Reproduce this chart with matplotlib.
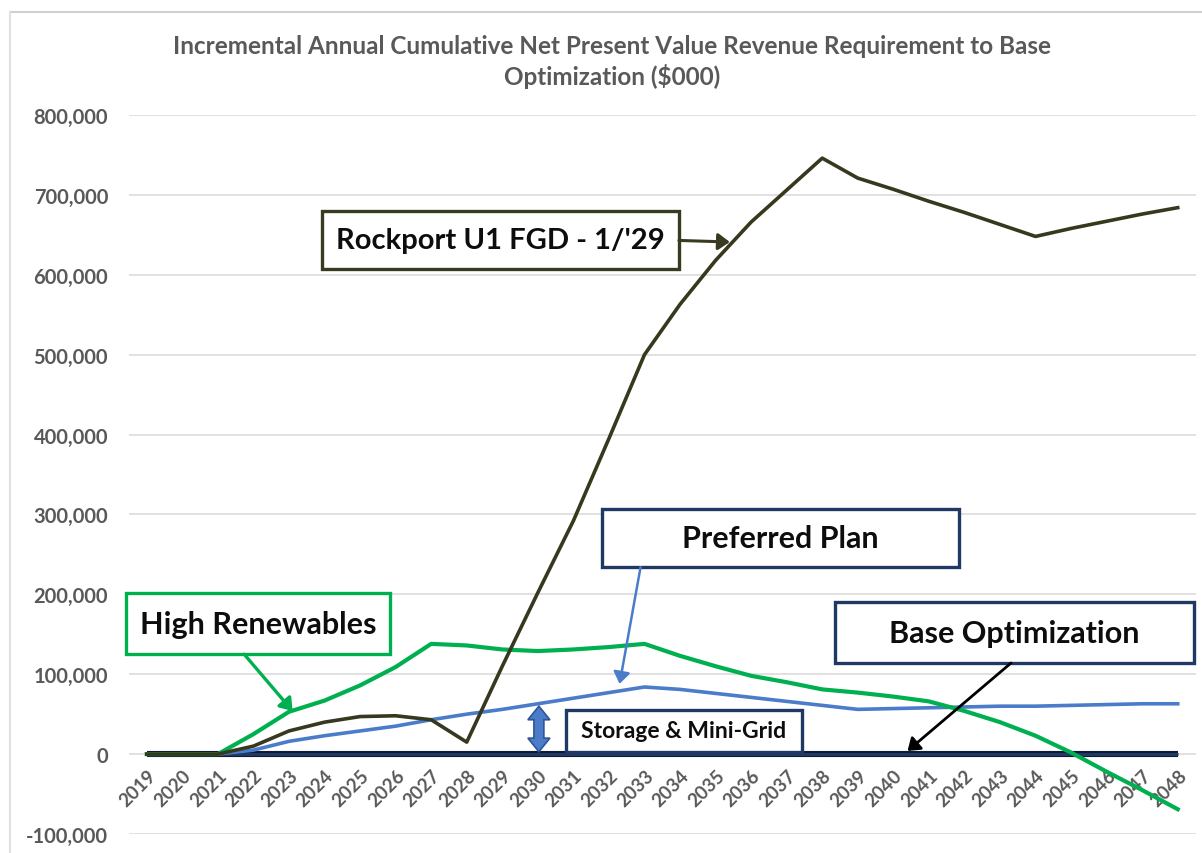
import matplotlib
matplotlib.use("Agg")
import matplotlib.pyplot as plt
from matplotlib.patches import Rectangle, FancyArrowPatch, Polygon
from matplotlib.ticker import FuncFormatter, MultipleLocator

# ---------------- data ($000) ----------------
years = [2019, 2020, 2021, 2022, 2023, 2024, 2025, 2026, 2027, 2028,
         2029, 2030, 2031, 2032, 2033, 2034, 2035, 2036, 2037, 2038,
         2039, 2040, 2041, 2042, 2043, 2044, 2045, 2046, 2047, 2048]
rockport = [0, 0, 0, 10000, 29000, 40000, 47000, 48000, 43000, 15000,
            110000, 202000, 292000, 395000, 500000, 563000, 618000, 666000, 706000, 746000,
            721000, 707000, 692000, 678000, 663000, 648000, 658000, 667000, 676000, 684000]
high_renewables = [0, 0, 0, 25000, 53000, 67000, 86000, 109000, 138000, 136000,
                   131000, 129000, 131000, 134000, 138000, 123000, 110000, 98000, 90000, 81000,
                   77000, 72000, 66000, 54000, 40000, 23000, 2000, -22000, -45000, -69000]
preferred = [0, 0, 0, 5000, 16000, 23000, 29000, 35000, 43000, 50000,
             56000, 63000, 70000, 77000, 84000, 81000, 76000, 71000, 66000, 61000,
             56000, 57000, 58000, 59000, 60000, 60000, 61000, 62000, 63000, 63000]
base_opt = [0] * len(years)

title = ("Incremental Annual Cumulative Net Present Value Revenue Requirement to Base\n"
         "Optimization ($000)")

# ---------------- style ----------------
plt.rcParams['font.family'] = ['Lato', 'DejaVu Sans']
C_ROCK = '#38381f'
C_GREEN = '#00b050'
C_BLUE = '#4a7cc9'
C_NAVY = '#1f3864'
C_GRAY = '#595959'

W, H = 1202, 854
fig = plt.figure(figsize=(W / 100, H / 100), dpi=100)
ax_left, ax_right, ax_top, ax_bot = 129, 1195.5, 116, 835
ax = fig.add_axes([ax_left / W, 1 - ax_bot / H, (ax_right - ax_left) / W, (ax_bot - ax_top) / H])

ax.set_xlim(2018.5, 2048.5)
ax.set_ylim(-100000, 800000)
ax.yaxis.set_major_locator(MultipleLocator(100000))
ax.yaxis.set_major_formatter(FuncFormatter(lambda v, p: f"{int(v):,}"))
ax.grid(axis='y', color='#dcdcdc', lw=1.2)
ax.set_axisbelow(True)
for s in ['top', 'right', 'left']:
    ax.spines[s].set_visible(False)
ax.spines['bottom'].set_position(('data', 0))
ax.spines['bottom'].set_visible(False)
ax.set_xticks(years)
ax.set_xticklabels([str(y) for y in years], rotation=45, ha='right', va='top',
                   rotation_mode='anchor', fontsize=13.5, color=C_GRAY, fontweight='bold')
ax.tick_params(axis='x', length=0, pad=9)
ax.tick_params(axis='y', length=0, pad=15, labelsize=14.5, labelcolor=C_GRAY)
for lab in ax.get_yticklabels():
    lab.set_fontweight('bold')

# ---------------- series ----------------
ax.plot(years, base_opt, color='#0f1a33', lw=4.4, solid_capstyle='butt', zorder=3)
ax.plot(years, base_opt, color=C_NAVY, lw=2.2, solid_capstyle='butt', zorder=3)
ax.plot(years, preferred, color=C_BLUE, lw=2.6, zorder=4)
ax.plot(years, rockport, color=C_ROCK, lw=2.6, zorder=5)
ax.plot(years, high_renewables, color=C_GREEN, lw=3.0, zorder=4)

# ---------------- annotation boxes ----------------
def box(x0, x1, y0, y1, ec, label, fs):
    r = Rectangle((x0, y0), x1 - x0, y1 - y0, facecolor='white', edgecolor=ec,
                  lw=2.4, zorder=7, clip_on=False)
    ax.add_patch(r)
    ax.text((x0 + x1) / 2, (y0 + y1) / 2, label, ha='center', va='center',
            fontsize=fs, fontweight='bold', color='#0d0d0d', zorder=8, clip_on=False)

def arrow(p0, p1, color, lw, hw=5, hl=7):
    a = FancyArrowPatch(p0, p1, arrowstyle=f'-|>,head_width={hw / 10},head_length={hl / 10}',
                        mutation_scale=10, color=color, lw=lw, zorder=9, clip_on=False,
                        shrinkA=0, shrinkB=0)
    ax.add_patch(a)

box(2023.93, 2033.97, 607000, 680000, '#3a3a20', "Rockport U1 FGD - 1/'29", 21)
arrow((2033.97, 643000), (2035.4, 641000), '#3a3a20', 2.2)

box(2031.80, 2041.85, 234000, 307000, C_NAVY, "Preferred Plan", 22)
arrow((2032.89, 234000), (2032.30, 88000), C_BLUE, 1.8)

box(2018.42, 2025.84, 125000, 201500, C_GREEN, "High Renewables", 22)
arrow((2021.74, 125000), (2023.10, 54000), C_GREEN, 2.4)

box(2038.36, 2048.46, 114000, 190000, C_NAVY, "Base Optimization", 22)
arrow((2043.31, 114000), (2040.40, 4000), 'black', 2.0)

box(2030.79, 2037.43, 3000, 55000, C_NAVY, "Storage & Mini-Grid", 16.5)

# double-headed block arrow (Storage & Mini-Grid span)
cx, y0, y1 = 2030.03, 3000, 60000
hw, sw, hl = 0.31, 0.14, 17000
pts = [(cx, y0), (cx + hw, y0 + hl), (cx + sw, y0 + hl), (cx + sw, y1 - hl),
       (cx + hw, y1 - hl), (cx, y1), (cx - hw, y1 - hl), (cx - sw, y1 - hl),
       (cx - sw, y0 + hl), (cx - hw, y0 + hl)]
ax.add_patch(Polygon(pts, closed=True, facecolor='#4a7cc9', edgecolor='#2f5597',
                     lw=1.2, zorder=9))

# ---------------- title and frame ----------------
fig.text(612 / W, 1 - 62 / H, title, ha='center', va='center', fontsize=17.5,
         fontweight='bold', color=C_GRAY, linespacing=1.25)
fig.add_artist(plt.Line2D([10 / W, 1], [1 - 13 / H, 1 - 13 / H], color='#d0d0d0', lw=1.5))
fig.add_artist(plt.Line2D([10 / W, 10 / W], [0, 1 - 13 / H], color='#e0e0e0', lw=1.5))

fig.savefig('out.png', dpi=100, facecolor='white')
